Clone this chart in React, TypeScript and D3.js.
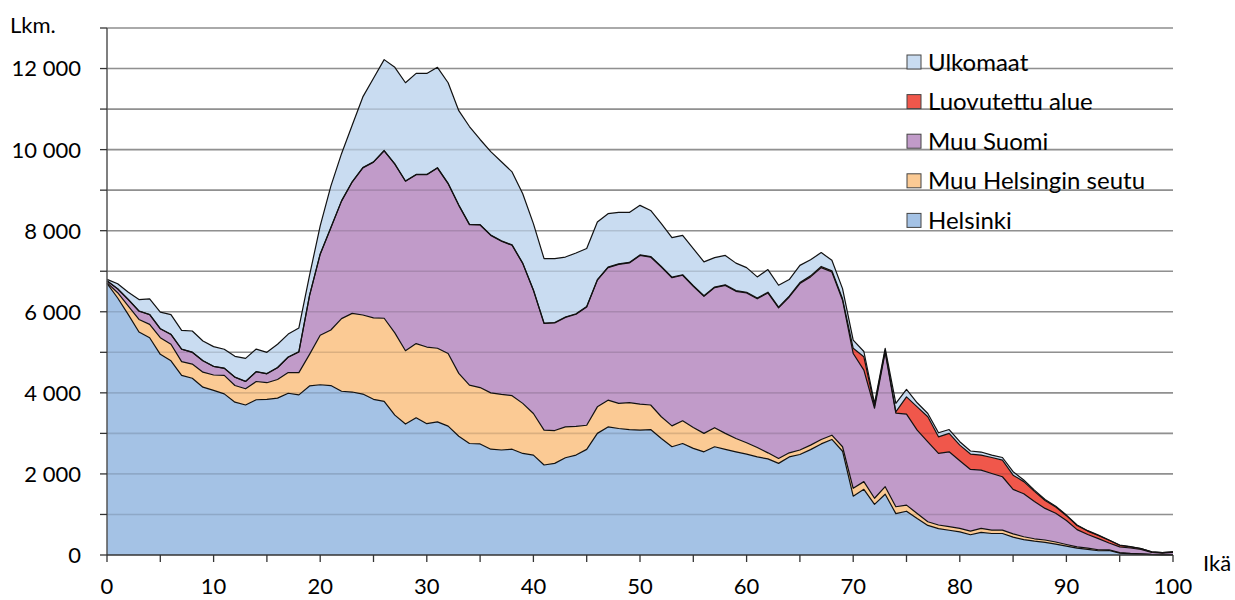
import React from "react";
import * as d3 from "d3";

const ages: number[] = Array.from({ length: 101 }, (_, i) => i);

const helsinki = [
  6700, 6340, 5930, 5500, 5360, 4950, 4790, 4430, 4360, 4140,
  4060, 3975, 3770, 3700, 3830, 3840, 3870, 3990, 3950, 4170,
  4200, 4180, 4040, 4020, 3970, 3840, 3790, 3450, 3230, 3385,
  3240, 3285, 3180, 2930, 2750, 2740, 2610, 2590, 2610, 2505,
  2465, 2220, 2260, 2400, 2465, 2605, 3000, 3160, 3120, 3095,
  3080, 3095, 2875, 2670, 2750, 2630, 2545, 2670, 2605, 2545,
  2490, 2420, 2370, 2260, 2420, 2480, 2600, 2740, 2850, 2560,
  1450, 1620, 1250, 1500, 1020, 1080, 900, 730, 650, 610,
  570, 500, 560, 530, 530, 440, 380, 340, 310, 270,
  220, 170, 140, 105, 110, 45, 30, 20, 10, 5, 4,
];

const muuHelsinginSeutu = [
  20, 130, 210, 310, 330, 410, 410, 340, 350, 370,
  380, 455, 410, 400, 450, 410, 460, 510, 550, 780,
  1220, 1370, 1790, 1940, 1950, 2010, 2050, 2030, 1810, 1830,
  1890, 1815, 1790, 1550, 1440, 1390, 1390, 1370, 1320, 1235,
  1025, 860, 810, 760, 710, 595, 655, 660, 620, 665,
  640, 605, 535, 515, 560, 515, 455, 470, 395, 330,
  280, 230, 150, 120, 100, 110, 110, 110, 105, 110,
  195, 190, 150, 185, 170, 150, 125, 90, 90, 90,
  85, 90, 95, 85, 85, 80, 70, 60, 60, 50,
  40, 30, 30, 25, 20, 15, 10, 10, 5, 3, 2,
];

const muuSuomi = [
  40, 95, 160, 205, 240, 220, 240, 305, 290, 280,
  210, 175, 205, 180, 240, 220, 290, 380, 510, 1450,
  2000, 2520, 2900, 3240, 3630, 3840, 4130, 4160, 4180, 4165,
  4250, 4445, 4190, 4145, 3960, 4010, 3885, 3780, 3710, 3450,
  3040, 2630, 2655, 2700, 2765, 2920, 3125, 3270, 3430, 3445,
  3670, 3650, 3695, 3655, 3590, 3485, 3380, 3455, 3650, 3630,
  3695, 3670, 3945, 3715, 3845, 4105, 4150, 4240, 4025, 3615,
  3325, 2750, 2220, 3315, 2310, 2245, 2055, 1970, 1765, 1845,
  1670, 1520, 1440, 1395, 1315, 1100, 1060, 920, 780, 710,
  590, 425, 335, 275, 165, 140, 132, 105, 47, 37, 59,
];

const luovutettuAlue = [
  4, 3, 3, 4, 3, 3, 4, 3, 3, 4,
  4, 4, 3, 4, 4, 5, 4, 5, 5, 6,
  6, 7, 6, 7, 8, 7, 8, 8, 7, 8,
  8, 9, 8, 9, 8, 9, 9, 10, 9, 10,
  9, 10, 10, 11, 10, 11, 12, 11, 12, 12,
  13, 12, 13, 14, 13, 14, 14, 15, 15, 16,
  17, 18, 18, 20, 22, 24, 26, 28, 30, 35,
  130, 330, 60, 50, 30, 425, 575, 620, 410, 455,
  385, 380, 370, 395, 410, 350, 300, 250, 195, 155,
  120, 103, 85, 77, 68, 40, 28, 22, 16, 13, 13,
];

const ulkomaat = [
  36, 122, 177, 281, 387, 407, 486, 462, 522, 486,
  486, 466, 512, 566, 556, 525, 576, 565, 585, 494,
  694, 1023, 1164, 1393, 1742, 2063, 2242, 2382, 2423, 2492,
  2492, 2476, 2482, 2326, 2412, 2101, 2056, 1950, 1801, 1710,
  1636, 1590, 1575, 1479, 1500, 1429, 1423, 1319, 1268, 1233,
  1222, 1138, 1057, 976, 972, 916, 836, 725, 725, 679,
  608, 522, 557, 540, 408, 426, 399, 342, 260, 250,
  200, 130, 60, 50, 210, 183, 100, 80, 100, 95,
  85, 75, 75, 60, 65, 85, 40, 30, 25, 20,
  15, 12, 10, 8, 7, 5, 5, 3, 2, 2, 2,
];

const seriesKeys = ["helsinki", "muuHelsinginSeutu", "muuSuomi", "luovutettuAlue", "ulkomaat"];
const seriesLabels: Record<string, string> = {
  helsinki: "Helsinki",
  muuHelsinginSeutu: "Muu Helsingin seutu",
  muuSuomi: "Muu Suomi",
  luovutettuAlue: "Luovutettu alue",
  ulkomaat: "Ulkomaat",
};
const seriesColors: Record<string, string> = {
  helsinki: "#a4c2e5",
  muuHelsinginSeutu: "#fbca94",
  muuSuomi: "#c19bc9",
  luovutettuAlue: "#f0574b",
  ulkomaat: "#c9dcf1",
};
const legendOrder = ["ulkomaat", "luovutettuAlue", "muuSuomi", "muuHelsinginSeutu", "helsinki"];

const yTickValues = [0, 2000, 4000, 6000, 8000, 10000, 12000];
const xTickLabels = [0, 10, 20, 30, 40, 50, 60, 70, 80, 90, 100];

const W = 1235;
const H = 600;
const M = { left: 107, right: 62, top: 28, bottom: 45 };
const FONT = "Lato, 'Open Sans', sans-serif";

export default function App() {
  const table = ages.map((a, i) => ({
    age: a,
    helsinki: helsinki[i],
    muuHelsinginSeutu: muuHelsinginSeutu[i],
    muuSuomi: muuSuomi[i],
    luovutettuAlue: luovutettuAlue[i],
    ulkomaat: ulkomaat[i],
  }));

  const x = d3.scaleLinear().domain([0, 100]).range([M.left, W - M.right]);
  const y = d3.scaleLinear().domain([0, 13000]).range([H - M.bottom, M.top]);

  const stacked = d3.stack<any>().keys(seriesKeys)(table);

  const area = d3
    .area<any>()
    .x((d) => x(d.data.age))
    .y0((d) => y(d[0]))
    .y1((d) => y(d[1]));
  const topLine = d3
    .line<any>()
    .x((d) => x(d.data.age))
    .y((d) => y(d[1]));

  const gridVals = d3.range(1000, 13001, 1000);
  const minorY = d3.range(0, 13001, 1000);
  const xMinor = d3.range(0, 101, 5);

  return (
    <svg
      width={W}
      height={H}
      style={{ position: "absolute", left: 0, top: 0, background: "#fff" }}
      fontFamily={FONT}
    >
      {gridVals.map((v) => (
        <line key={"g" + v} x1={x(0)} x2={x(100)} y1={y(v)} y2={y(v)} stroke="#a6a6a6" strokeWidth={1.6} />
      ))}
      {stacked.map((s) => (
        <path key={s.key} d={area(s) || ""} fill={seriesColors[s.key]} stroke="none" />
      ))}
      {gridVals.map((v) => (
        <line key={"go" + v} x1={x(0)} x2={x(100)} y1={y(v)} y2={y(v)} stroke="#000" strokeOpacity={0.13} strokeWidth={1.6} />
      ))}
      {stacked.map((s) => (
        <path key={"l" + s.key} d={topLine(s) || ""} fill="none" stroke="#111" strokeWidth={1.2} strokeLinejoin="round" />
      ))}
      <line x1={x(0)} x2={x(0)} y1={y(0)} y2={y(13000)} stroke="#555" strokeWidth={1.5} />
      <line x1={x(0)} x2={x(100)} y1={y(0)} y2={y(0)} stroke="#333" strokeWidth={1.5} />
      {minorY.map((v) => (
        <line key={"yt" + v} x1={x(0) - 7} x2={x(0)} y1={y(v)} y2={y(v)} stroke="#333" strokeWidth={1.3} />
      ))}
      {xMinor.map((v) => (
        <line key={"xt" + v} x1={x(v)} x2={x(v)} y1={y(0)} y2={y(0) + 7} stroke="#333" strokeWidth={1.3} />
      ))}
      {yTickValues.map((v) => (
        <text key={"yl" + v} x={x(0) - 26} y={y(v)} dy="0.36em" textAnchor="end" fontSize={22} fill="#000">
          {d3.format(",")(v).replace(/,/g, "\u00a0")}
        </text>
      ))}
      {xTickLabels.map((v) => (
        <text key={"xl" + v} x={x(v)} y={y(0) + 39} textAnchor="middle" fontSize={22} fill="#000">
          {v}
        </text>
      ))}
      <text x={10} y={33} fontSize={22} fill="#000">Lkm.</text>
      <text x={1203} y={571} fontSize={22} fill="#000">Ikä</text>
      {legendOrder.map((k, i) => {
        const cy = 62 + i * 39.6;
        return (
          <g key={"lg" + k}>
            <rect x={907} y={cy - 7} width={14} height={14} fill={seriesColors[k]} stroke="#444" strokeWidth={1} />
            <text x={928} y={cy} dy="0.36em" fontSize={24} fill="#000">
              {seriesLabels[k]}
            </text>
          </g>
        );
      })}
    </svg>
  );
}
